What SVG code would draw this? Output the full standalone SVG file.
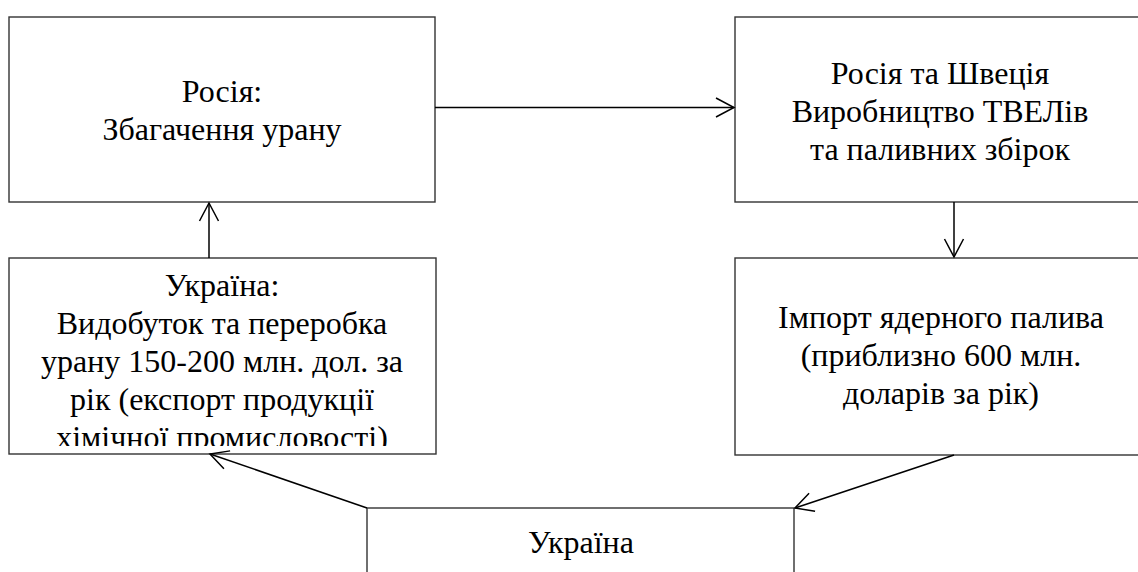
<svg xmlns="http://www.w3.org/2000/svg" width="1138" height="572" viewBox="0 0 1138 572">
<style>
.box{fill:#fff;stroke:#333;stroke-width:1.4}
.t{font-family:'Liberation Serif',serif;font-size:32px;fill:#000;text-anchor:middle}
.c{fill:none;stroke:#000;stroke-width:1.5}
</style>
<defs>
<marker id="ah" markerUnits="userSpaceOnUse" markerWidth="40" markerHeight="40" viewBox="-20 -20 40 40" refX="0" refY="0" orient="auto" overflow="visible">
<path d="M -18 -9.5 L 0 0 L -18 9.5" fill="none" stroke="#000" stroke-width="1.5"/>
</marker>
<clipPath id="clip3"><rect x="9" y="258" width="427" height="188"/></clipPath>
</defs>
<rect width="1138" height="572" fill="#fff"/>
<g id="n1">
<rect class="box" x="9" y="17" width="426" height="185"/>
<text class="t" x="222" y="102">Росія:</text>
<text class="t" x="222" y="139.5">Збагачення урану</text>
</g>
<g id="n2">
<rect class="box" x="735" y="17" width="420" height="185"/>
<text class="t" x="940" y="84">Росія та Швеція</text>
<text class="t" x="940" y="122">Виробництво ТВЕЛів</text>
<text class="t" x="940" y="160">та паливних збірок</text>
</g>
<g id="n3">
<rect class="box" x="9" y="258" width="427" height="196"/>
<g clip-path="url(#clip3)">
<text class="t" x="222" y="295.5">Україна:</text>
<text class="t" x="222" y="333.5">Видобуток та переробка</text>
<text class="t" x="222" y="371.5">урану 150-200 млн. дол. за</text>
<text class="t" x="222" y="409.5">рік (експорт продукції</text>
<text class="t" x="222" y="447.5">хімічної промисловості)</text>
</g>
</g>
<g id="n4">
<rect class="box" x="735" y="258" width="420" height="197"/>
<text class="t" x="941" y="328">Імпорт ядерного палива</text>
<text class="t" x="941" y="365.5">(приблизно 600 млн.</text>
<text class="t" x="941" y="403.5">доларів за рік)</text>
</g>
<g id="n5">
<rect class="box" x="367" y="508" width="427" height="100"/>
<text class="t" x="581" y="553">Україна</text>
</g>
<g id="connectors">
<line class="c" x1="435" y1="107.5" x2="734" y2="107.5" marker-end="url(#ah)"/>
<line class="c" x1="209" y1="258" x2="209" y2="203" marker-end="url(#ah)"/>
<line class="c" x1="954" y1="202" x2="954" y2="257" marker-end="url(#ah)"/>
<line class="c" x1="954" y1="455" x2="795" y2="508" marker-end="url(#ah)"/>
<line class="c" x1="367" y1="508" x2="210" y2="454" marker-end="url(#ah)"/>
</g>
</svg>
